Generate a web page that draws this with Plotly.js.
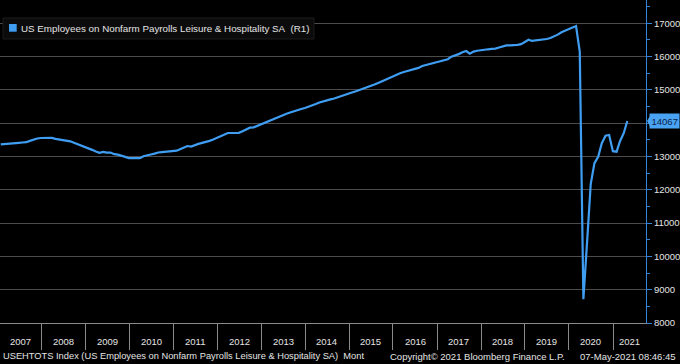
<!DOCTYPE html>
<html>
<head>
<meta charset="utf-8">
<script src="https://cdn.plot.ly/plotly-3.0.1.min.js"></script>
<style>
  html, body { margin: 0; padding: 0; background: #000; }
  #chart { width: 680px; height: 364px; }
</style>
</head>
<body>
<div id="chart"></div>
<script>
// ---- Data (thousands of employees, monthly, seasonally adjusted) ----
const startYear = 2007;
const v2007 = [13366,13370,13380,13385,13395,13410,13420,13430,13470,13516,13540,13556];
const v2008 = [13560,13562,13558,13530,13510,13500,13480,13455,13410,13370,13335,13290];
const v2009 = [13245,13200,13150,13110,13140,13115,13120,13070,13055,13030,12990,12950];
const v2010 = [12945,12945,12950,13010,13045,13060,13085,13120,13130,13140,13150,13160];
const v2011 = [13175,13220,13270,13315,13300,13350,13380,13410,13430,13470,13510,13560];
const v2012 = [13610,13660,13706,13706,13706,13710,13760,13810,13865,13875,13920,13980];
const v2013 = [14010,14060,14115,14150,14195,14245,14285,14320,14360,14400,14425,14456];
const v2014 = [14490,14535,14575,14620,14660,14690,14715,14740,14780,14830,14870,14900];
const v2015 = [14930,14960,15000,15030,15060,15110,15160,15210,15260,15320,15370,15410];
const v2016 = [15460,15500,15540,15570,15600,15630,15660,15720,15750,15775,15800,15840];
const v2017 = [15860,15890,15920,15997,16030,16075,16130,16168,16088,16150,16175,16195];
const v2018 = [16210,16220,16230,16240,16275,16310,16339,16340,16339,16355,16375,16429];
const v2019 = [16507,16470,16480,16505,16515,16528,16560,16600,16660,16729,16780,16830];
const v2020 = [16870,16919,16147,8712,10443,12174,12800,12990,13400,13625,13646,13160];
const v2021 = [13144,13460,13700,14067];

const yearLabels = ['2007','2008','2009','2010','2011','2012','2013','2014','2015','2016','2017','2018','2019','2020','2021'];
const yTickVals = [8000,9000,10000,11000,12000,13000,14000,15000,16000,17000];

const seriesName = 'US Employees on Nonfarm Payrolls Leisure & Hospitality SA&nbsp;&nbsp;(R1)';
const footerLeft = 'USEHTOTS Index (US Employees on Nonfarm Payrolls Leisure & Hospitality SA)&nbsp;&nbsp;Mont';
const footerMid = 'Copyright© 2021 Bloomberg Finance L.P.';
const footerRight = '07-May-2021 08:46:45';

// ---- Build series ----
const yearly = [v2007,v2008,v2009,v2010,v2011,v2012,v2013,v2014,v2015,v2016,v2017,v2018,v2019,v2020,v2021];
const xs = [], ys = [];
function pad(n){ return (n < 10 ? '0' : '') + n; }
yearly.forEach((arr, yi) => {
  const yr = startYear + yi;
  arr.forEach((val, mi) => {
    const d = new Date(Date.UTC(yr, mi + 1, 0)); // month end
    xs.push(d.getUTCFullYear() + '-' + pad(d.getUTCMonth() + 1) + '-' + pad(d.getUTCDate()));
    ys.push(val);
  });
});
const lastVal = ys[ys.length - 1];

const xRange = ['2007-01-25', '2021-10-02'];
const LINE = '#3f9ef2';
const AXIS_BLUE = '#2f86dc';
const TXT = '#e4e4e4';
const FONT = 'Liberation Sans, Arial, sans-serif';
const plotW = 646, plotH = 323;

// year labels centered in visible portion of each year
const rMin = new Date(xRange[0]).getTime(), rMax = new Date(xRange[1]).getTime();
const annotations = [];
yearLabels.forEach(lbl => {
  const y = parseInt(lbl, 10);
  let a = Date.UTC(y, 0, 1), b = Date.UTC(y + 1, 0, 1);
  a = Math.max(a, rMin); b = Math.min(b, rMax);
  const mid = new Date((a + b) / 2);
  annotations.push({
    x: mid.toISOString().slice(0, 10), xref: 'x', y: 0, yref: 'paper',
    yanchor: 'middle', yshift: -18, showarrow: false, text: lbl,
    font: { family: FONT, size: 9.5, color: TXT }
  });
});

// Footer
annotations.push({ x: 1 / plotW, xref: 'paper', xanchor: 'left', y: 0, yref: 'paper', yanchor: 'middle', yshift: -33,
  showarrow: false, text: footerLeft, font: { family: FONT, size: 9.3, color: TXT } });
annotations.push({ x: 388 / plotW, xref: 'paper', xanchor: 'left', y: 0, yref: 'paper', yanchor: 'middle', yshift: -33,
  showarrow: false, text: footerMid, font: { family: FONT, size: 9.5, color: TXT } });
annotations.push({ x: 678 / plotW, xref: 'paper', xanchor: 'right', y: 0, yref: 'paper', yanchor: 'middle', yshift: -33,
  showarrow: false, text: footerRight, font: { family: FONT, size: 9.5, color: TXT } });

// Legend text
annotations.push({ x: 19 / plotW, xref: 'paper', xanchor: 'left', y: (plotH - 28) / plotH, yref: 'paper', yanchor: 'middle',
  showarrow: false, text: seriesName, font: { family: FONT, size: 9.8, color: TXT } });

// Last value label
annotations.push({ x: 1, xref: 'paper', xanchor: 'left', xshift: 3, y: lastVal, yref: 'y', yanchor: 'middle',
  showarrow: false, text: String(lastVal), bgcolor: '#4aa3f2', borderpad: 1.5,
  font: { family: FONT, size: 9.5, color: '#0a1e46' } });

const shapes = [
  // legend box
  { type: 'rect', xref: 'paper', yref: 'paper', x0: 3 / plotW, x1: 314 / plotW,
    y0: (plotH - 39) / plotH, y1: (plotH - 18) / plotH, fillcolor: '#0b0b0b', line: { color: '#1c1c1c', width: 1 }, layer: 'above' },
  // legend swatch
  { type: 'rect', xref: 'paper', yref: 'paper', x0: 9 / plotW, x1: 16.7 / plotW,
    y0: (plotH - 31.7) / plotH, y1: (plotH - 24) / plotH, fillcolor: LINE, line: { width: 0 }, layer: 'above' },
  // last-value pointer
  { type: 'path', xref: 'paper', xsizemode: 'pixel', xanchor: 1, yref: 'y', ysizemode: 'pixel', yanchor: lastVal,
    path: 'M1,0 L4,5 L4,-5 Z', fillcolor: '#4aa3f2', line: { width: 0 } }
];

const trace = {
  x: xs, y: ys, type: 'scatter', mode: 'lines',
  line: { color: LINE, width: 2.2 }, showlegend: false, hoverinfo: 'skip'
};

// hide the tick label hidden behind the last-value tag (as in the reference)
const yTickText = yTickVals.map(v => (Math.abs(v - lastVal) < 350 ? '' : String(v)));

const layout = {
  width: 680, height: 364,
  margin: { l: 0, r: 34, t: 0, b: 41, pad: 0 },
  paper_bgcolor: '#000', plot_bgcolor: '#000',
  showlegend: false,
  font: { family: FONT, color: TXT },
  xaxis: {
    type: 'date', range: xRange, showgrid: false, zeroline: false,
    showline: true, linecolor: '#8a8a8a', linewidth: 1,
    tickmode: 'array', tickvals: yearLabels.slice(1).map(y => y + '-01-01'),
    ticks: 'outside', ticklen: 26, tickcolor: '#8a8a8a', tickwidth: 1,
    showticklabels: false, fixedrange: true
  },
  yaxis: {
    side: 'right', range: [8000, 17700], zeroline: false,
    tickmode: 'array', tickvals: yTickVals, ticktext: yTickText,
    showgrid: true, gridcolor: '#4c4c4c', gridwidth: 1,
    showline: true, linecolor: AXIS_BLUE, linewidth: 1,
    ticks: 'outside', ticklen: 5, tickcolor: AXIS_BLUE, tickwidth: 1,
    tickfont: { family: FONT, size: 9.5, color: TXT },
    minor: { dtick: 500, tick0: 8000, ticks: 'outside', ticklen: 3, tickcolor: AXIS_BLUE, showgrid: false },
    fixedrange: true
  },
  annotations: annotations,
  shapes: shapes
};

Plotly.newPlot('chart', [trace], layout, { displayModeBar: false, staticPlot: true });
</script>
</body>
</html>
